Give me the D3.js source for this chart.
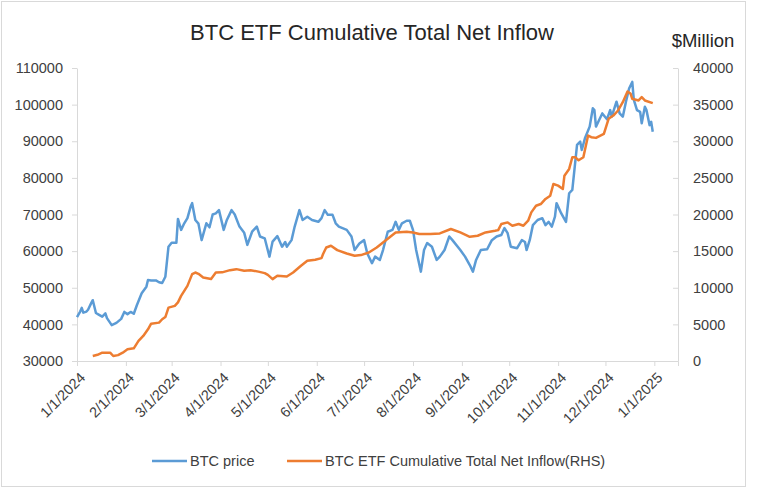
<!DOCTYPE html>
<html lang="en">
<head>
<meta charset="utf-8">
<title>BTC ETF Cumulative Total Net Inflow</title>
<script src="https://cdn.jsdelivr.net/npm/d3@7"></script>
<style>
    body { margin: 0; background: #fff; }
    svg text { font-family: "Liberation Sans", Arial, sans-serif; fill: #404040; }
</style>
</head>
<body>
<script>

// BTC price (left axis)
var priceDates = ["2024-01-01","2024-01-03","2024-01-04","2024-01-05","2024-01-07","2024-01-08","2024-01-10","2024-01-11","2024-01-13","2024-01-15",
    "2024-01-17","2024-01-19","2024-01-20","2024-01-23","2024-01-26","2024-01-29","2024-01-31","2024-02-02","2024-02-04","2024-02-06",
    "2024-02-08","2024-02-11","2024-02-14","2024-02-15","2024-02-17","2024-02-20","2024-02-22","2024-02-24","2024-02-26","2024-02-28",
    "2024-03-01","2024-03-04","2024-03-05","2024-03-07","2024-03-09","2024-03-11","2024-03-13","2024-03-14","2024-03-16","2024-03-18",
    "2024-03-20","2024-03-23","2024-03-25","2024-03-27","2024-03-29","2024-03-31","2024-04-03","2024-04-05","2024-04-08","2024-04-10",
    "2024-04-13","2024-04-16","2024-04-18","2024-04-21","2024-04-24","2024-04-26","2024-04-29","2024-05-02","2024-05-04","2024-05-07",
    "2024-05-10","2024-05-12","2024-05-13","2024-05-16","2024-05-18","2024-05-21","2024-05-23","2024-05-26","2024-05-29","2024-06-02",
    "2024-06-04","2024-06-06","2024-06-08","2024-06-11","2024-06-13","2024-06-15","2024-06-20","2024-06-23","2024-06-25","2024-06-28",
    "2024-07-01","2024-07-03","2024-07-06","2024-07-08","2024-07-11","2024-07-13","2024-07-16","2024-07-19","2024-07-21","2024-07-23",
    "2024-07-25","2024-07-28","2024-07-30","2024-08-01","2024-08-03","2024-08-06","2024-08-08","2024-08-10","2024-08-13","2024-08-16",
    "2024-08-18","2024-08-21","2024-08-24","2024-08-26","2024-08-31","2024-09-03","2024-09-06","2024-09-08","2024-09-10","2024-09-13",
    "2024-09-17","2024-09-20","2024-09-23","2024-09-26","2024-09-28","2024-09-30","2024-10-02","2024-10-06","2024-10-09","2024-10-11",
    "2024-10-12","2024-10-14","2024-10-16","2024-10-19","2024-10-22","2024-10-24","2024-10-26","2024-10-28","2024-10-30","2024-10-31",
    "2024-11-03","2024-11-06","2024-11-08","2024-11-10","2024-11-13","2024-11-15","2024-11-16","2024-11-18","2024-11-21","2024-11-23",
    "2024-11-24","2024-11-25","2024-11-27","2024-11-29","2024-12-02","2024-12-04","2024-12-05","2024-12-08","2024-12-10","2024-12-12",
    "2024-12-14","2024-12-16","2024-12-18","2024-12-19","2024-12-21","2024-12-23","2024-12-24","2024-12-26","2024-12-27","2024-12-29",
    "2024-12-30","2024-12-31"];
var priceValues = [42000,43500,44500,43200,43500,44000,45800,46600,43100,42600,
    42100,43000,41700,39800,40400,41500,43400,42800,43400,42900,
    45300,48500,50300,52100,52000,52000,51500,51300,53000,61200,
    62300,62300,68800,65800,67600,69000,72100,73100,68500,67500,
    63000,67600,66500,70000,70300,71200,65800,68500,71200,70000,
    66700,65000,61700,65300,66700,64000,63500,58500,62600,64100,
    61200,62500,61200,63000,66700,71200,68500,69400,68500,68000,
    69000,71200,69900,69900,67600,66700,65800,64000,60300,62100,
    63000,59400,56700,58500,57600,60300,65300,65800,68000,65800,
    67600,68300,68300,65800,60300,54400,60300,62200,61200,57600,
    58500,60300,64000,63000,60300,58500,56200,54400,57600,60300,
    60500,63000,64000,64400,66300,64900,61200,60800,63000,62500,
    60300,63000,67100,68500,69000,67100,68000,66700,69400,73100,
    70300,68000,75800,76700,89000,89900,87600,90800,94000,99000,
    98500,94000,95800,97600,96000,98500,96700,100800,97600,96700,
    100800,104400,106200,101300,98500,98000,94900,99400,98500,94400,
    95300,92600];

// BTC ETF cumulative total net inflow, $ million (right axis)
var flowDates = ["2024-01-11","2024-01-14","2024-01-17","2024-01-22","2024-01-24","2024-01-27","2024-01-30","2024-02-02","2024-02-06","2024-02-09",
    "2024-02-12","2024-02-15","2024-02-17","2024-02-22","2024-02-24","2024-02-26","2024-02-28","2024-03-03","2024-03-05","2024-03-07",
    "2024-03-11","2024-03-14","2024-03-16","2024-03-18","2024-03-21","2024-03-26","2024-03-29","2024-04-02","2024-04-07","2024-04-11",
    "2024-04-16","2024-04-20","2024-04-25","2024-04-29","2024-05-01","2024-05-04","2024-05-07","2024-05-13","2024-05-17","2024-05-22",
    "2024-05-26","2024-05-31","2024-06-04","2024-06-05","2024-06-07","2024-06-10","2024-06-14","2024-06-20","2024-06-25","2024-06-29",
    "2024-07-04","2024-07-09","2024-07-13","2024-07-17","2024-07-21","2024-07-28","2024-08-01","2024-08-05","2024-08-12","2024-08-18",
    "2024-08-25","2024-08-31","2024-09-06","2024-09-11","2024-09-16","2024-09-22","2024-09-24","2024-09-26","2024-09-30","2024-10-03",
    "2024-10-07","2024-10-10","2024-10-13","2024-10-15","2024-10-18","2024-10-21","2024-10-24","2024-10-27","2024-10-29","2024-11-01",
    "2024-11-04","2024-11-05","2024-11-08","2024-11-10","2024-11-12","2024-11-14","2024-11-17","2024-11-20","2024-11-22","2024-11-25",
    "2024-11-30","2024-12-03","2024-12-06","2024-12-09","2024-12-12","2024-12-15","2024-12-17","2024-12-18","2024-12-22","2024-12-24",
    "2024-12-26","2024-12-31"];
var flowValues = [680,850,1130,1140,680,800,1140,1600,1730,2740,
    3420,4330,5100,5240,5700,6000,7290,7520,8000,8890,
    10260,11860,12080,11900,11400,11200,12080,12100,12400,12540,
    12310,12400,12200,12000,11760,11180,11630,11530,12080,13000,
    13680,13820,14050,14600,15500,15730,15140,14680,14360,14460,
    14820,15500,16180,16870,17550,17650,17550,17330,17330,17420,
    18020,17550,16960,17100,17550,17780,17870,18700,18920,18470,
    18700,18470,19150,20290,21200,21430,22120,22570,24170,23940,
    23490,25300,26220,27810,27810,27400,27810,30780,30550,30460,
    31010,33060,33510,34200,35330,36800,36480,35800,35570,36020,
    35570,35200];

var leftTicks = [30000, 40000, 50000, 60000, 70000, 80000, 90000, 100000, 110000];
var rightTicks = [0, 5000, 10000, 15000, 20000, 25000, 30000, 35000, 40000];
var seriesNames = ["BTC price", "BTC ETF Cumulative Total Net Inflow(RHS)"];
var colors = ["#5b9bd5", "#ed7d31"];

var w = 777, h = 489;
var parseDate = d3.timeParse("%Y-%m-%d");
var formatTick = d3.timeFormat("%-m/%-d/%Y");

var price = priceDates.map(function (d, i) { return { date: parseDate(d), value: priceValues[i] }; });
var flow = flowDates.map(function (d, i) { return { date: parseDate(d), value: flowValues[i] }; });

var xScale = d3.scaleTime()
    .domain([parseDate("2024-01-01"), parseDate("2025-01-16")])
    .range([77, 678]);
var yLeft = d3.scaleLinear().domain([30000, 110000]).range([361, 68]);
var yRight = d3.scaleLinear().domain([0, 40000]).range([361, 68]);

var svg = d3.select("body").append("svg")
    .attr("width", w)
    .attr("height", h);

// chart frame
svg.append("rect")
    .attr("x", 1.5).attr("y", 1.5)
    .attr("width", 744).attr("height", 485)
    .attr("fill", "#fff")
    .attr("stroke", "#d9d9d9");

svg.append("text")
    .attr("x", 372).attr("y", 40)
    .attr("text-anchor", "middle")
    .attr("font-size", "22px")
    .style("fill", "#262626")
    .text("BTC ETF Cumulative Total Net Inflow");

svg.append("text")
    .attr("x", 703).attr("y", 47)
    .attr("text-anchor", "middle")
    .attr("font-size", "18.5px")
    .style("fill", "#262626")
    .text("$Million");

// axes
var xAxis = d3.axisBottom(xScale)
    .tickValues(d3.timeMonth.range(parseDate("2024-01-01"), parseDate("2025-01-02")))
    .tickFormat(formatTick)
    .tickSizeOuter(0)
    .tickSize(5);

var gx = svg.append("g").attr("transform", "translate(0,361)").call(xAxis);
gx.selectAll("text")
    .attr("font-size", "14.5px")
    .attr("text-anchor", "end")
    .attr("dx", "0")
    .attr("dy", "0")
    .attr("transform", "translate(3,12) rotate(-45)");

var gl = svg.append("g").attr("transform", "translate(77,0)")
    .call(d3.axisLeft(yLeft).tickValues(leftTicks).tickFormat(d3.format("d"))
        .tickSize(5).tickSizeOuter(0).tickPadding(9));
gl.selectAll("text").attr("font-size", "14.5px");

var gr = svg.append("g").attr("transform", "translate(678,0)")
    .call(d3.axisRight(yRight).tickValues(rightTicks).tickFormat(d3.format("d"))
        .tickSize(-5).tickSizeOuter(0).tickPadding(15));
gr.selectAll("text").attr("font-size", "14.5px");

svg.selectAll(".domain, .tick line").attr("stroke", "#d9d9d9");
svg.selectAll(".tick text").style("fill", "#404040");

// lines
var lineLeft = d3.line()
    .x(function (d) { return xScale(d.date); })
    .y(function (d) { return yLeft(d.value); });
var lineRight = d3.line()
    .x(function (d) { return xScale(d.date); })
    .y(function (d) { return yRight(d.value); });

svg.append("path").datum(price)
    .attr("d", lineLeft)
    .attr("fill", "none")
    .attr("stroke", colors[0])
    .attr("stroke-width", 2.5)
    .attr("stroke-linejoin", "round");

svg.append("path").datum(flow)
    .attr("d", lineRight)
    .attr("fill", "none")
    .attr("stroke", colors[1])
    .attr("stroke-width", 2.5)
    .attr("stroke-linejoin", "round");

// legend
var legendX = [152, 287];
var legend = svg.selectAll(".legend")
    .data(seriesNames)
    .enter()
    .append("g")
    .attr("class", "legend")
    .attr("transform", function (d, i) { return "translate(" + legendX[i] + ",461)"; });

legend.append("line")
    .attr("x1", 0).attr("x2", 35)
    .attr("stroke", function (d, i) { return colors[i]; })
    .attr("stroke-width", 2.5);

legend.append("text")
    .attr("x", 38).attr("y", 5)
    .attr("font-size", "14.5px")
    .text(function (d) { return d; });

</script>
</body>
</html>
